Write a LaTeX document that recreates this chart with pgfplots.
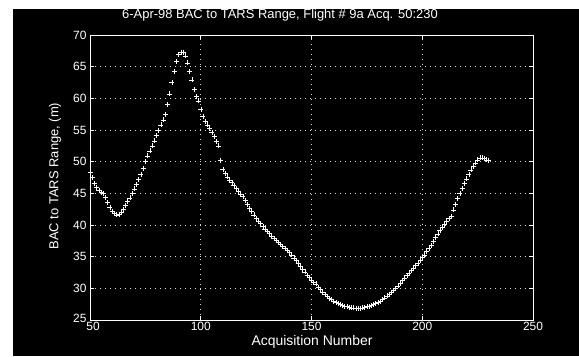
\documentclass[border=0pt]{standalone}
\usepackage{pgfplots}
\pgfplotsset{compat=1.18}
\usepackage{fontspec}
\setmainfont{Liberation Sans}
\pgfplotstableread{
n v
50 48.3
51 47.5
52 46.6
53 46.0
54 45.5
55 45.2
56 45.0
57 44.4
58 43.6
59 42.8
60 42.2
61 41.8
62 41.6
63 41.7
64 42.0
65 42.5
66 43.1
67 43.7
68 44.3
69 45.0
70 45.7
71 46.4
72 47.2
73 48.0
74 49.0
75 50.0
76 50.9
77 51.7
78 52.5
79 53.3
80 54.2
81 55.0
82 55.8
83 56.6
84 57.5
85 59.0
86 60.7
87 62.5
88 64.3
89 65.8
90 66.9
91 67.3
92 67.3
93 66.7
94 65.6
95 64.3
96 62.9
97 61.4
98 60.3
99 59.6
100 58.3
101 57.2
102 56.4
103 55.8
104 55.2
105 54.6
106 54.0
107 53.2
108 52.5
109 50.2
110 48.8
111 48.1
112 47.6
113 47.1
114 46.7
115 46.3
116 45.8
117 45.3
118 44.9
119 44.5
120 43.9
121 43.2
122 42.6
123 42.1
124 41.6
125 41.1
126 40.6
127 40.2
128 39.8
129 39.4
130 39.0
131 38.7
132 38.3
133 37.9
134 37.6
135 37.2
136 36.9
137 36.6
138 36.3
139 36.0
140 35.7
141 35.3
142 34.8
143 34.4
144 34.0
145 33.5
146 33.0
147 32.6
148 32.1
149 31.7
150 31.3
151 31.0
152 30.7
153 30.2
154 29.8
155 29.4
156 29.0
157 28.7
158 28.4
159 28.2
160 28.0
161 27.8
162 27.6
163 27.5
164 27.3
165 27.2
166 27.1
167 27.0
168 26.9
169 26.9
170 26.8
171 26.8
172 26.8
173 26.9
174 27.0
175 27.1
176 27.2
177 27.3
178 27.5
179 27.6
180 27.8
181 28.0
182 28.2
183 28.5
184 28.8
185 29.1
186 29.4
187 29.7
188 30.0
189 30.4
190 30.8
191 31.2
192 31.6
193 32.0
194 32.4
195 32.8
196 33.2
197 33.6
198 34.0
199 34.4
200 34.9
201 35.3
202 35.8
203 36.3
204 36.8
205 37.4
206 38.0
207 38.6
208 39.1
209 39.6
210 40.1
211 40.6
212 41.0
213 41.4
214 42.4
215 43.3
216 44.2
217 45.0
218 45.8
219 46.6
220 47.3
221 48.0
222 48.7
223 49.3
224 49.8
225 50.3
226 50.6
227 50.6
228 50.5
229 50.3
230 50.2
}\rangedata
\begin{document}
\begin{tikzpicture}[x=1bp,y=1bp]
\fill[white] (0,0) rectangle (579,356);
\fill[black] (13,0) rectangle (579,347);
\begin{axis}[
  at={(90bp,36bp)}, anchor=south west,
  scale only axis, width=443bp, height=285bp,
  xmin=50, xmax=250, ymin=25, ymax=70,
  xtick={50,100,...,250}, ytick={25,30,...,70},
  xticklabels={\hspace*{6bp}50,100,150,200,250},
  yticklabels={\raisebox{4bp}{25},30,35,40,45,50,55,60,65,70},
  axis line style={white, line width=0.8pt},
  tick style={white, line width=0.6pt},
  tick align=inside, major tick length=4bp,
  grid=major,
  major grid style={white!85!black, dash pattern=on 1bp off 4bp, line width=0.6pt},
  ticklabel style={white, font=\fontsize{12}{12}\selectfont},
  xticklabel style={yshift=1bp},
  axis background/.style={fill=black},
]
\addplot[only marks, mark=+, mark size=2.5bp, white, line width=0.5pt] table[x=n, y=v] {\rangedata};
\end{axis}
\node[white, font=\fontsize{13}{15}\selectfont] at (280,341) {6-Apr-98 BAC to TARS Range, Flight \# 9a Acq. 50:230};
\node[white, font=\fontsize{14}{16}\selectfont] at (312,14) {Acquisition Number};
\node[white, rotate=90, font=\fontsize{13}{15}\selectfont] at (55,180) {BAC to TARS Range, (m)};
\end{tikzpicture}
\end{document}
